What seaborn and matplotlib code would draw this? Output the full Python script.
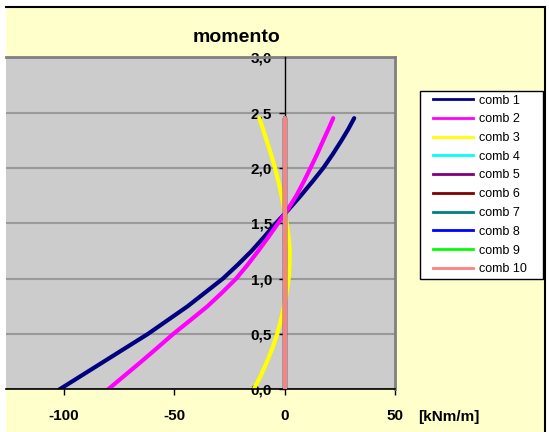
import numpy as np
import pandas as pd
import matplotlib
matplotlib.use('Agg')
import matplotlib.pyplot as plt
import seaborn as sns
from matplotlib.patches import Rectangle
from matplotlib.lines import Line2D
from matplotlib.ticker import FuncFormatter

# depth along the wall (m) and bending moment per combination (kNm/m)
heights = [0.0, 0.125, 0.25, 0.375, 0.5, 0.625, 0.75, 0.875, 1.0, 1.125, 1.25,
           1.375, 1.5, 1.625, 1.75, 1.875, 2.0, 2.125, 2.25, 2.35, 2.45]
comb_names = ['comb 1', 'comb 2', 'comb 3', 'comb 4', 'comb 5',
              'comb 6', 'comb 7', 'comb 8', 'comb 9', 'comb 10']
comb1 = [-102, -92, -82, -72, -62, -53, -44, -36, -28, -21.3, -15,
         -9.4, -4, 1.8, 7.3, 12.5, 17.5, 21.8, 25.8, 28.8, 31.5]
comb2 = [-80, -72.5, -65, -57.7, -50.5, -42.7, -35, -28.3, -22, -16.8, -12,
         -7.4, -3, 1.4, 5.3, 8.6, 11.7, 14.7, 17.5, 19.8, 22]
comb3 = [-14, -10.8, -8, -5.5, -3.4, -1.7, -0.3, 0.9, 1.8, 2.2, 2.3,
         1.8, 0.9, -0.2, -1.4, -2.8, -4.4, -6.2, -8.2, -9.8, -11.5]
comb_zero = [0] * 21  # comb 4 .. comb 10 sit on the axis
comb_colors = ['#000080', '#FF00FF', '#FFFF00', '#00FFFF', '#800080',
               '#800000', '#008080', '#0000FF', '#00FF00', '#FF8080']
y_ticks = [0.0, 0.5, 1.0, 1.5, 2.0, 2.5, 3.0]
x_ticks = [-100, -50, 0, 50]

series = [comb1, comb2, comb3] + [comb_zero] * 7
rows = []
for name, vals in zip(comb_names, series):
    for h, m in zip(heights, vals):
        rows.append({'comb': name, 'momento': m, 'h': h})
df = pd.DataFrame(rows)

plt.rcParams['font.family'] = ['Liberation Sans', 'DejaVu Sans']
plt.rcParams['axes.unicode_minus'] = False

W, H = 549, 432
fig = plt.figure(figsize=(W / 100, H / 100), dpi=100)
fig.patch.set_facecolor('white')
# chart area (cropped on the left and bottom)
fig.add_artist(Rectangle((6 / W, 0), (545 - 6) / W, (H - 7) / H,
                         transform=fig.transFigure, facecolor='#FFFFCC',
                         edgecolor='none', zorder=-1))
fig.add_artist(Line2D([6 / W, 545 / W], [1 - 7 / H, 1 - 7 / H],
                      transform=fig.transFigure, color='black', lw=1.5))
fig.add_artist(Line2D([545 / W, 545 / W], [0, 1 - 7 / H],
                      transform=fig.transFigure, color='black', lw=1.5))

ax = fig.add_axes([6 / W, (H - 389.3) / H, 389 / W, 332 / H])
ax.set_facecolor('#CCCCCC')

sns.lineplot(data=df, x='momento', y='h', hue='comb', hue_order=comb_names,
             palette=comb_colors, sort=False, estimator=None, lw=3,
             solid_capstyle='round', legend=False, ax=ax)
# last series sits on top of the vertical axis line
for ln in ax.get_lines():
    if matplotlib.colors.to_hex(ln.get_color()).upper() == '#FF8080':
        ln.set_zorder(2.6)

ax.set_xlim(-126.3, 50)
ax.set_ylim(0, 3.0)
ax.set_xticks(x_ticks)
ax.set_yticks(y_ticks)
ax.yaxis.set_major_formatter(FuncFormatter(lambda v, p: f'{v:.1f}'.replace('.', ',')))
ax.set_xlabel('')
ax.set_ylabel('')

ax.yaxis.grid(True, color='#999999', lw=1.5)
ax.xaxis.grid(False)
ax.set_axisbelow(True)

ax.spines['left'].set_position(('data', 0))
ax.spines['left'].set_color('black')
ax.spines['left'].set_linewidth(1)
ax.spines['bottom'].set_color('black')
ax.spines['bottom'].set_linewidth(1.2)
for s in ['top', 'right']:
    ax.spines[s].set_color('#808080')
    ax.spines[s].set_linewidth(2)
    ax.spines[s].set_zorder(2.2)

ax.tick_params(axis='y', direction='out', length=4, width=1, pad=5, labelsize=11)
ax.tick_params(axis='x', direction='out', length=4, width=1, pad=10, labelsize=11)
for lbl in ax.get_xticklabels() + ax.get_yticklabels():
    lbl.set_fontweight('bold')

fig.text(236.5 / W, 1 - 37 / H, 'momento', ha='center', va='center',
         fontsize=14, fontweight='bold')
fig.text(418 / W, 1 - 421 / H, '[kNm/m]', ha='left', va='baseline',
         fontsize=11, fontweight='bold')

# legend box drawn by hand, entries placed inside it
fig.add_artist(Rectangle((420 / W, 1 - 279 / H), 123 / W, 188 / H,
                         transform=fig.transFigure, facecolor='white',
                         edgecolor='black', lw=1, zorder=-0.5))
handles = [Line2D([], [], color=c, lw=2) for c in comb_colors]
leg = ax.legend(handles, comb_names, loc='upper left',
                bbox_to_anchor=(433 / W, 1 - 94.5 / H), bbox_transform=fig.transFigure,
                frameon=False, fontsize=9, handlelength=3.2, handletextpad=0.5,
                labelspacing=0.54, borderpad=0, borderaxespad=0)

fig.savefig('out.png', dpi=100)
